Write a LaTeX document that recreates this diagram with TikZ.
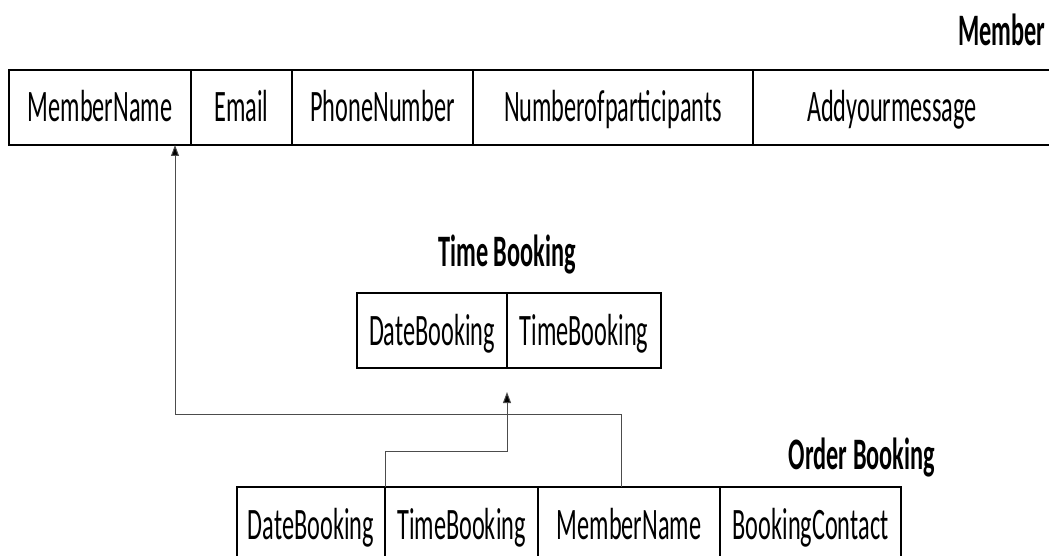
\documentclass[tikz,border=0pt]{standalone}
\usepackage{fontspec}
\setmainfont{Carlito}[FakeStretch=0.54]
\usetikzlibrary{positioning,arrows.meta}

\begin{document}
\begin{tikzpicture}[
    x=1pt, y=-1pt,
    cell/.style={draw, line width=1.5pt, minimum height=75pt, inner sep=2pt, outer sep=0pt,
        text height=29pt, text depth=0pt, font=\fontsize{45}{50}\selectfont},
    tabletitle/.style={inner sep=2pt, text height=29pt, text depth=0pt,
        font=\fontsize{45}{50}\selectfont\bfseries},
    refline/.style={-{Triangle[length=11pt, width=8pt, fill=black]}, line width=1pt, draw=black!70}
]
    \useasboundingbox (0,0) rectangle (1049,556);
    \clip (0,0) rectangle (1049,556);

    % Member table
    \node[tabletitle] (membertitle) at (1002,31) {Member};
    \node[cell, minimum width=182pt, anchor=north west] (mname) at (9,70) {MemberName};
    \node[cell, minimum width=101pt, right=0pt of mname] (memail) {Email};
    \node[cell, minimum width=181pt, right=0pt of memail] (mphone) {PhoneNumber};
    \node[cell, minimum width=280pt, right=0pt of mphone] (mparts) {Numberofparticipants};
    \node[cell, draw=none, minimum width=278pt, right=0pt of mparts] (mmsg) {Addyourmessage};
    \draw[line width=1.5pt] (mmsg.north west) -- ++(320,0) (mmsg.south west) -- ++(320,0);

    % Time Booking table
    \node[cell, minimum width=150pt, anchor=north west] (tdate) at (357,293) {DateBooking};
    \node[cell, minimum width=154pt, right=0pt of tdate] (ttime) {TimeBooking};
    \node[tabletitle, above=24pt of tdate.north east] (timetitle) {Time Booking};

    % Order Booking table
    \node[tabletitle] (ordertitle) at (862,455) {Order Booking};
    \node[cell, minimum width=148pt, anchor=north west] (odate) at (237,487) {DateBooking};
    \node[cell, minimum width=153pt, right=0pt of odate] (otime) {TimeBooking};
    \node[cell, minimum width=182pt, right=0pt of otime] (omember) {MemberName};
    \node[cell, minimum width=181pt, right=0pt of omember] (ocontact) {BookingContact};

    % Foreign keys
    \draw[refline] ([xshift=-8pt]omember.north) -- ++(0,-73) -| ([xshift=75pt]mname.south);
    \draw[refline, shorten >=24pt] (odate.north east) -- ++(0,-36) -| (tdate.south east);
\end{tikzpicture}
\end{document}
